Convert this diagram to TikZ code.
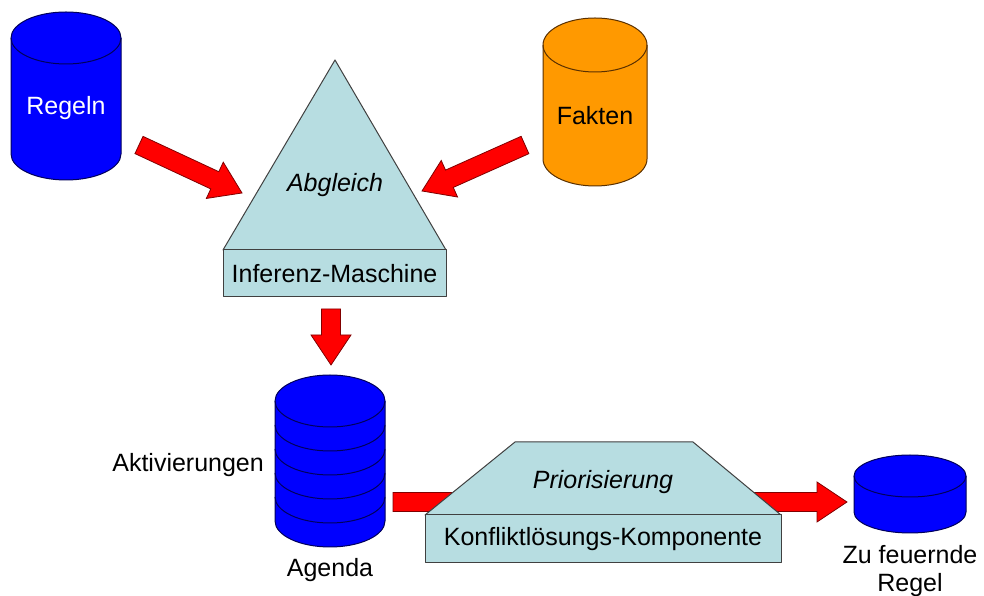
\documentclass[tikz,border=0pt]{standalone}
\usepackage{fontspec}
\setmainfont{Liberation Sans}
\usepackage{xcolor}
\definecolor{dbblue}{HTML}{0000FF}
\definecolor{dbline}{HTML}{00005A}
\definecolor{factorange}{HTML}{FF9900}
\definecolor{factline}{HTML}{5A3000}
\definecolor{engfill}{HTML}{B7DDE1}
\definecolor{arrred}{HTML}{FF0000}
\usetikzlibrary{calc}
\tikzset{
  lbl/.style  ={font=\fontsize{25}{28}\selectfont, inner sep=0pt, align=center},
  lbli/.style ={lbl, font=\fontsize{25}{28}\selectfont\itshape},
  engine/.style={draw=black!75, fill=engfill, line width=1pt, line join=round},
  enginebox/.style={engine, lbl, anchor=south west, outer sep=0pt},
  bluedrum/.style={draw=dbline, fill=dbblue, line width=1pt},
  orangedrum/.style={draw=factline, fill=factorange, line width=1pt},
  blockarr/.style={draw=red!50!black, fill=arrred, line width=0.8pt,
    to path={($(\tikztostart)!9.5pt!90:(\tikztotarget)$)
      -- ($($(\tikztotarget)!30pt!(\tikztostart)$)!9.5pt!90:(\tikztotarget)$)
      -- ($($(\tikztotarget)!30pt!(\tikztostart)$)!20pt!90:(\tikztotarget)$)
      -- (\tikztotarget)
      -- ($($(\tikztotarget)!30pt!(\tikztostart)$)!20pt!-90:(\tikztotarget)$)
      -- ($($(\tikztotarget)!30pt!(\tikztostart)$)!9.5pt!-90:(\tikztotarget)$)
      -- ($(\tikztostart)!9.5pt!-90:(\tikztotarget)$) -- cycle}},
}
% style, cx, top y, bottom y, rx, ry
\newcommand{\drum}[6]{%
  \draw[#1] (#2-#5,#3) -- (#2-#5,#4)
    arc[start angle=180, end angle=360, x radius=#5, y radius=#6]
    -- (#2+#5,#3)
    arc[start angle=0, end angle=180, x radius=#5, y radius=#6] -- cycle;
  \draw[#1, fill=none] (#2-#5,#3)
    arc[start angle=180, end angle=360, x radius=#5, y radius=#6];}

\begin{document}
\begin{tikzpicture}[x=1pt, y=1pt]
  \fill[white] (0,0) rectangle (984,596);
  \useasboundingbox (0,0) rectangle (984,596);

  % Datenbanken
  \drum{bluedrum}{66}{558}{442}{55}{26}
  \node[lbl, text=white] (regeln) at (66,488) {Regeln};
  \drum{orangedrum}{595}{551}{437}{52}{27}
  \node[lbl] (fakten) at (595,480) {Fakten};

  % Inferenz-Maschine
  \draw[engine] (223,346) -- (335,536) -- (446,346) -- cycle;
  \node[lbli] (abgleich) at (335,411) {Abgleich};
  \node[enginebox, minimum width=223pt, minimum height=47pt] (inferenz) at (223,299) {Inferenz-Maschine};

  % Agenda
  \drum{bluedrum}{330}{195}{75}{55}{26}
  \foreach \k in {1,...,4}
    \draw[dbline, line width=1pt] (275,195-24*\k)
      arc[start angle=180, end angle=360, x radius=55, y radius=26];
  \node[lbl, anchor=east] (aktiv) at (264,131) {Aktivierungen};
  \node[lbl] (agenda) at (330,26) {Agenda};

  % Pfeil unter der Konfliktloesung
  \coordinate (agendaOut) at (393,94);
  \coordinate (regelIn) at (847,94);
  \draw[blockarr] (agendaOut) to (regelIn);

  % Konfliktloesungs-Komponente
  \draw[engine] (425,81) -- (515,154) -- (693,154) -- (781,81) -- cycle;
  \node[lbli] (prio) at (603,114) {Priorisierung};
  \node[enginebox, minimum width=356pt, minimum height=48pt] (konflikt) at (425,33) {Konfliktlösungs-Komponente};

  % Zu feuernde Regel
  \drum{bluedrum}{910}{120}{84}{56}{21}
  \node[lbl] (regel) at (910,25) {Zu feuernde\\Regel};

  % Pfeile
  \coordinate (regelnOut) at (139,451);
  \coordinate (abglL) at (242,403);
  \coordinate (faktenOut) at (525,451);
  \coordinate (abglR) at (422,405);
  \coordinate (infOut) at (331,287);
  \coordinate (agendaIn) at (331,231);
  \draw[blockarr] (regelnOut) to (abglL);
  \draw[blockarr] (faktenOut) to (abglR);
  \draw[blockarr] (infOut) to (agendaIn);
\end{tikzpicture}
\end{document}
